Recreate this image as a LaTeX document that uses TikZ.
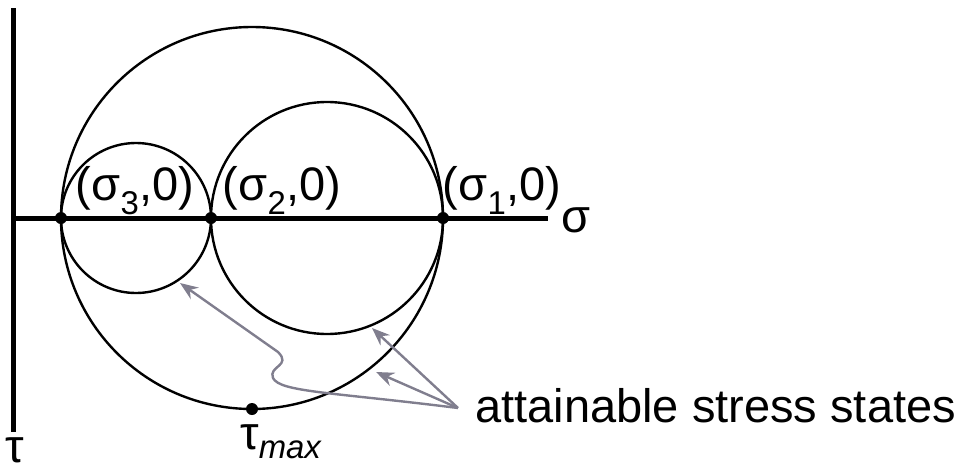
\documentclass[tikz,border=0pt]{standalone}
\usepackage{fontspec}
\setmainfont{Liberation Sans}
\usetikzlibrary{arrows.meta}
\definecolor{pointergray}{RGB}{128,126,142}

\begin{document}
\begin{tikzpicture}[x=1pt,y=-1pt,
    axis/.style={line width=5pt},
    mohr/.style={line width=2.4pt},
    dot/.style={circle,fill=black,inner sep=0pt,minimum size=12pt},
    lbl/.style={inner sep=0pt,anchor=base,font=\fontsize{47}{54}\selectfont},
    note/.style={inner sep=0pt,anchor=base west,font=\fontsize{47}{54}\selectfont},
    pointer/.style={-{Stealth[length=18pt,width=14pt,inset=6pt]},line width=2.4pt,pointergray}]
  \useasboundingbox (0,0) rectangle (963,471);
  % axes
  \coordinate (ttop) at (13.5,8);
  \coordinate (tbot) at (13.5,432);
  \coordinate (origin) at (13.5,218);
  \coordinate (send) at (548,218);
  \draw[axis] (ttop) -- (tbot);
  \draw[axis] (origin) -- (send);

  % Mohr circles
  \coordinate (cbig) at (252,218);
  \coordinate (csmall) at (136,218);
  \coordinate (cmid) at (327,218);
  \draw[mohr] (cbig) circle (191pt);
  \draw[mohr] (csmall) circle (75pt);
  \draw[mohr] (cmid) circle (116pt);

  % principal stresses
  \node[dot] (s3) at (61,218) {};
  \node[dot] (s2) at (211,218) {};
  \node[dot] (s1) at (443,218) {};
  \node[dot] (tmax) at (252,409) {};

  \node[lbl] (l3) at (135,200) {(σ\textsubscript{3},0)};
  \node[lbl] (l2) at (282,200) {(σ\textsubscript{2},0)};
  \node[lbl] (l1) at (502,200) {(σ\textsubscript{1},0)};
  \node[lbl] (sig) at (576,232) {σ};
  \node[lbl] (tau) at (15,462) {τ};
  \node[lbl,anchor=base west] (tmaxl) at (240,449) {τ\textsubscript{\itshape max}};

  % attainable states
  \node[note] (states) at (475,422) {attainable stress states};
  \coordinate (hub) at (458,408);
  \coordinate (tipA) at (180,283);
  \coordinate (tipB) at (372,328);
  \coordinate (tipC) at (376,372);
  \draw[pointer] (hub) -- (tipB);
  \draw[pointer] (hub) -- (tipC);
  \draw[pointer] (hub) .. controls (330,392) and (280,392) .. (273,378)
    .. controls (268,366) and (292,366) .. (278,352) -- (tipA);
\end{tikzpicture}
\end{document}
